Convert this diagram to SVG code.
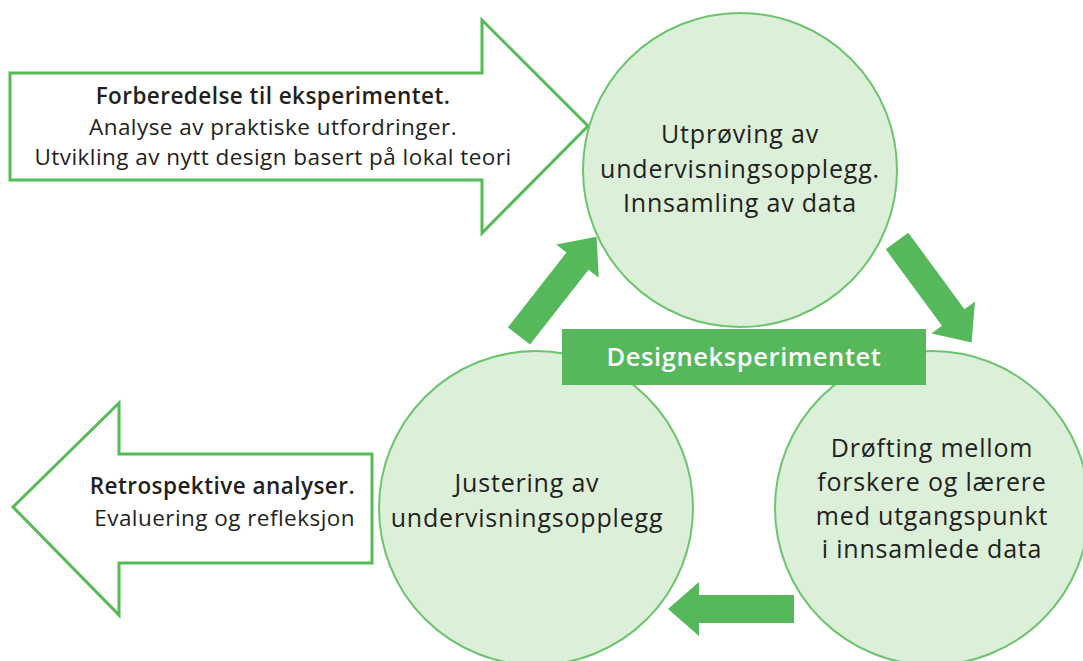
<svg xmlns="http://www.w3.org/2000/svg" width="1083" height="661" viewBox="0 0 1083 661">
<defs>
<style>
.circ{fill:#dcefd8;stroke:#6cc46e;stroke-width:2}
.outl{fill:#ffffff;stroke:#55bb55;stroke-width:3}
.t{font-family:"Open Sans","Noto Sans",sans-serif;fill:#231f20;font-size:22.5px;letter-spacing:0.45px}
.c{font-family:"Open Sans","Noto Sans",sans-serif;fill:#231f20;font-size:25px;letter-spacing:0.8px;text-anchor:middle}
.b{font-weight:600}
.fa{fill:#55b95b}
</style>
<path id="arr" d="M0,-14 L95,-14 L95,-27 L126,0 L95,27 L95,14 L0,14 Z"/>
</defs>
<rect width="1083" height="661" fill="#ffffff"/>
<g id="forberedelse">
<polygon class="outl" points="10,73 482,73 482,20 588,126 482,233 482,180 10,180"/>
<text class="t" text-anchor="middle" x="273" y="104"><tspan class="b">Forberedelse til eksperimentet.</tspan><tspan x="273" y="135">Analyse av praktiske utfordringer.</tspan><tspan x="273" y="165">Utvikling av nytt design basert på lokal teori</tspan></text>
</g>
<g id="retrospektive">
<polygon class="outl" points="372,454 119,454 119,403 13,507 119,615 119,563 372,563"/>
<text class="t" text-anchor="end" x="355" y="494"><tspan class="b">Retrospektive analyser.</tspan><tspan x="355" y="526">Evaluering og refleksjon</tspan></text>
</g>
<g id="utproving">
<circle class="circ" cx="740" cy="170" r="157"/>
<text class="c" x="740" y="143">Utprøving av<tspan x="740" y="178">undervisningsopplegg.</tspan><tspan x="740" y="212">Innsamling av data</tspan></text>
</g>
<g id="justering">
<circle class="circ" cx="536" cy="508" r="157"/>
<text class="c" x="527" y="492">Justering av<tspan x="527" y="527">undervisningsopplegg</tspan></text>
</g>
<g id="drofting">
<circle class="circ" cx="932" cy="508" r="157"/>
<text class="c" x="932" y="457">Drøfting mellom<tspan x="932" y="491">forskere og lærere</tspan><tspan x="932" y="525">med utgangspunkt</tspan><tspan x="932" y="558">i innsamlede data</tspan></text>
</g>
<g id="connectors">
<use href="#arr" class="fa" transform="translate(519,336) rotate(-52)"/>
<use href="#arr" class="fa" transform="translate(897,241) rotate(53.7)"/>
<use href="#arr" class="fa" transform="translate(794,609) rotate(180)"/>
</g>
<g id="designeksperimentet">
<rect x="562" y="329" width="364" height="56" fill="#55b95b"/>
<text x="744" y="366" text-anchor="middle" font-family="'Open Sans','Noto Sans',sans-serif" font-size="25.5" letter-spacing="0.6" font-weight="600" fill="#ffffff">Designeksperimentet</text>
</g>
</svg>
